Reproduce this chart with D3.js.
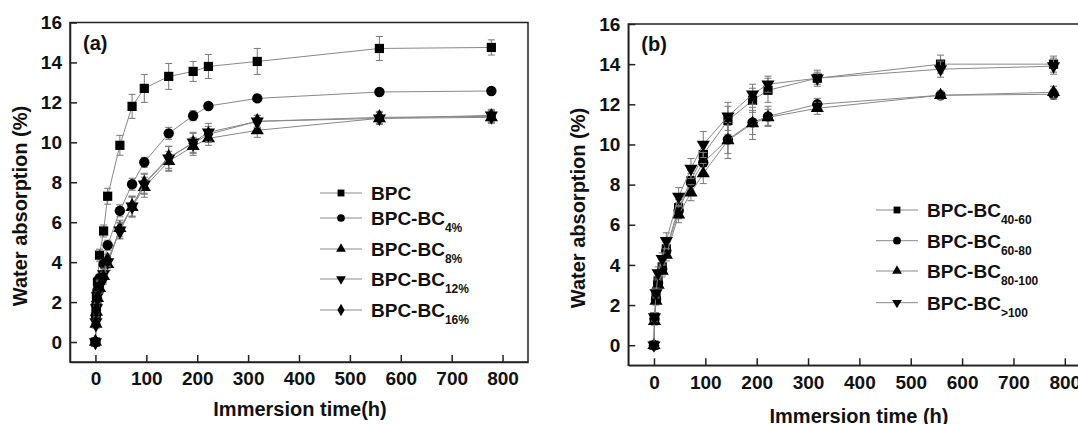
<!DOCTYPE html>
<html>
<head>
<meta charset="utf-8">
<script src="https://cdn.jsdelivr.net/npm/d3@7"></script>
<style>
  body { margin: 0; background: #fff; }
  text { font-family: "Liberation Sans", Arial, sans-serif; font-weight: bold; fill: #111; }
</style>
</head>
<body>
<div id="chart"></div>
<script>
// (a) time points and series
var timesA = [0, 1, 2, 4, 8, 16, 24, 48, 72, 96, 144, 192, 222, 318, 558, 778];
var bpc = [0, 1.6, 2.3, 3.0, 4.35, 5.56, 7.3, 9.85, 11.8, 12.7, 13.3, 13.55, 13.8, 14.05, 14.7, 14.75];
var bpcErr = [0.1, 0.2, 0.2, 0.25, 0.3, 0.3, 0.4, 0.5, 0.6, 0.7, 0.65, 0.5, 0.6, 0.65, 0.6, 0.38];
var bc4 = [0, 1.3, 1.9, 2.6, 3.2, 3.9, 4.85, 6.57, 7.9, 9.0, 10.45, 11.33, 11.82, 12.2, 12.52, 12.57];
var bc4Err = [0.1, 0.15, 0.15, 0.2, 0.2, 0.2, 0.25, 0.3, 0.3, 0.25, 0.3, 0.25, 0.15, 0.15, 0.1, 0.1];
var bc8 = [0, 0.9, 1.5, 2.2, 2.7, 3.3, 3.9, 5.7, 6.75, 7.75, 9.05, 9.8, 10.2, 10.6, 11.2, 11.25];
var bc8Err = [0.1, 0.2, 0.2, 0.25, 0.3, 0.3, 0.3, 0.4, 0.5, 0.5, 0.5, 0.45, 0.35, 0.35, 0.3, 0.3];
var bc12 = [0, 1.0, 1.7, 2.3, 2.8, 3.4, 4.0, 5.6, 6.8, 7.9, 9.2, 10.0, 10.5, 11.05, 11.2, 11.35];
var bc12Err = [0.1, 0.2, 0.2, 0.2, 0.3, 0.3, 0.3, 0.4, 0.5, 0.5, 0.6, 0.5, 0.45, 0.3, 0.3, 0.3];
var bc16 = [0, 0.9, 1.6, 2.2, 2.75, 3.2, 4.1, 5.56, 6.8, 7.95, 9.25, 9.95, 10.4, 11.05, 11.25, 11.3];
var bc16Err = [0.1, 0.2, 0.2, 0.2, 0.3, 0.3, 0.3, 0.4, 0.5, 0.5, 0.55, 0.5, 0.4, 0.3, 0.3, 0.3];

// (b) time points and series
var timesB = [0, 1, 4, 8, 16, 24, 48, 72, 96, 144, 192, 222, 318, 558, 778];
var bc4060 = [0, 1.4, 2.4, 3.2, 3.9, 4.8, 6.85, 8.2, 9.5, 11.2, 12.2, 12.7, 13.3, 14.0, 14.0];
var bc4060Err = [0.1, 0.2, 0.25, 0.25, 0.3, 0.35, 0.4, 0.5, 0.6, 0.7, 0.6, 0.6, 0.4, 0.45, 0.4];
var bc6080 = [0, 1.3, 2.3, 3.1, 3.8, 4.7, 6.7, 8.1, 9.1, 10.25, 11.1, 11.4, 12.0, 12.45, 12.5];
var bc6080Err = [0.1, 0.2, 0.2, 0.25, 0.3, 0.3, 0.4, 0.45, 0.5, 0.7, 0.6, 0.5, 0.3, 0.2, 0.25];
var bc80100 = [0, 1.2, 2.2, 3.0, 3.7, 4.5, 6.5, 7.6, 8.55, 10.2, 11.05, 11.35, 11.8, 12.45, 12.6];
var bc80100Err = [0.1, 0.2, 0.2, 0.25, 0.3, 0.3, 0.4, 0.4, 0.5, 0.9, 0.8, 0.4, 0.3, 0.2, 0.3];
var bcOver100 = [0, 1.4, 2.6, 3.6, 4.3, 5.2, 7.4, 8.8, 10.0, 11.4, 12.5, 13.0, 13.3, 13.75, 13.9];
var bcOver100Err = [0.1, 0.2, 0.25, 0.3, 0.3, 0.4, 0.45, 0.5, 0.65, 0.7, 0.5, 0.4, 0.3, 0.4, 0.4];

var xTicks = [0, 100, 200, 300, 400, 500, 600, 700, 800];
var yTicks = [0, 2, 4, 6, 8, 10, 12, 14, 16];

var svg = d3.select("#chart").append("svg")
    .attr("width", 1078)
    .attr("height", 424);

function markerPath(kind, size) {
    var types = { square: d3.symbolSquare, circle: d3.symbolCircle, up: d3.symbolTriangle, down: d3.symbolTriangle, diamond: d3.symbolDiamond };
    return d3.symbol().type(types[kind]).size(size)();
}
function markerRot(kind) {
    return kind === "down" ? " rotate(180)" : "";
}

function drawPanel(p) {
    var x = d3.scaleLinear().domain([-50, 850]).range([p.left, p.right]);
    var y = d3.scaleLinear().domain([-1, 16]).range([p.bottom, p.top]);
    var g = svg.append("g");

    // frame
    g.append("rect")
        .attr("x", p.left).attr("y", p.top)
        .attr("width", p.right - p.left).attr("height", p.bottom - p.top)
        .attr("fill", "none").attr("stroke", "#222").attr("stroke-width", 1.5);

    var xAxis = d3.axisBottom(x).tickValues(xTicks).tickSizeInner(-7).tickSizeOuter(0).tickPadding(10);
    var yAxis = d3.axisLeft(y).tickValues(yTicks).tickSizeInner(-7).tickSizeOuter(0).tickPadding(8);

    var gx = g.append("g").attr("transform", "translate(0," + p.bottom + ")").call(xAxis);
    var gy = g.append("g").attr("transform", "translate(" + p.left + ",0)").call(yAxis);
    [gx, gy].forEach(function(a) {
        a.select(".domain").attr("stroke", "#222").attr("stroke-width", 1.5);
        a.selectAll(".tick line").attr("stroke", "#222").attr("stroke-width", 1.5);
        a.selectAll(".tick text").attr("fill", "#111")
            .style("font-family", "'Liberation Sans', Arial, sans-serif")
            .style("font-weight", "bold").style("font-size", "19px");
    });

    var line = d3.line()
        .x(function(d) { return x(d.t); })
        .y(function(d) { return y(d.v); });

    p.series.forEach(function(s) {
        var pts = p.times.map(function(t, i) { return { t: t, v: s.values[i], e: s.err[i] }; });
        var sg = g.append("g");

        var eb = sg.selectAll(".eb").data(pts).enter().append("g");
        eb.append("line")
            .attr("x1", function(d) { return x(d.t); }).attr("x2", function(d) { return x(d.t); })
            .attr("y1", function(d) { return y(d.v - d.e); }).attr("y2", function(d) { return y(d.v + d.e); });
        eb.append("line")
            .attr("x1", function(d) { return x(d.t) - 3.5; }).attr("x2", function(d) { return x(d.t) + 3.5; })
            .attr("y1", function(d) { return y(d.v + d.e); }).attr("y2", function(d) { return y(d.v + d.e); });
        eb.append("line")
            .attr("x1", function(d) { return x(d.t) - 3.5; }).attr("x2", function(d) { return x(d.t) + 3.5; })
            .attr("y1", function(d) { return y(d.v - d.e); }).attr("y2", function(d) { return y(d.v - d.e); });
        eb.selectAll("line").attr("stroke", "#777").attr("stroke-width", 1);

        sg.append("path").datum(pts)
            .attr("d", line)
            .attr("fill", "none").attr("stroke", "#888").attr("stroke-width", 1);

        sg.selectAll(".mk").data(pts).enter().append("path")
            .attr("d", markerPath(s.marker, s.size))
            .attr("transform", function(d) { return "translate(" + x(d.t) + "," + y(d.v) + ")" + markerRot(s.marker); })
            .attr("fill", "#000");
    });

    // legend
    p.series.forEach(function(s, i) {
        var ly = p.legendY[i];
        g.append("line")
            .attr("x1", p.legendX).attr("x2", p.legendX + 42)
            .attr("y1", ly).attr("y2", ly)
            .attr("stroke", "#888").attr("stroke-width", 1);
        g.append("path")
            .attr("d", markerPath(s.marker, s.size * 0.55))
            .attr("transform", "translate(" + (p.legendX + 21) + "," + ly + ")" + markerRot(s.marker))
            .attr("fill", "#000");
        var t = g.append("text")
            .attr("x", p.legendX + 51).attr("y", ly + 7)
            .style("font-size", "19px");
        t.append("tspan").text(s.name);
        if (s.sub) {
            t.append("tspan").text(s.sub).attr("dy", 7).style("font-size", "12px");
        }
    });

    g.append("text").text(p.label)
        .attr("x", p.left + 13).attr("y", p.top + 27)
        .style("font-size", "20px");

    g.append("text").text(p.xTitle)
        .attr("text-anchor", "middle")
        .attr("x", p.xTitleX).attr("y", p.xTitleY)
        .style("font-size", "20px");

    g.append("text").text("Water absorption (%)")
        .attr("text-anchor", "middle")
        .attr("transform", "translate(" + p.yTitleX + "," + p.yTitleY + ") rotate(-90)")
        .style("font-size", "20px");
}

drawPanel({
    left: 70, right: 528, top: 22.5, bottom: 362,
    times: timesA,
    series: [
        { name: "BPC", sub: "", values: bpc, err: bpcErr, marker: "square", size: 85 },
        { name: "BPC-BC", sub: "4%", values: bc4, err: bc4Err, marker: "circle", size: 85 },
        { name: "BPC-BC", sub: "8%", values: bc8, err: bc8Err, marker: "up", size: 75 },
        { name: "BPC-BC", sub: "12%", values: bc12, err: bc12Err, marker: "down", size: 75 },
        { name: "BPC-BC", sub: "16%", values: bc16, err: bc16Err, marker: "diamond", size: 80 }
    ],
    legendX: 320, legendY: [193, 218, 249, 279, 310],
    label: "(a)", xTitle: "Immersion time(h)", xTitleX: 300, xTitleY: 416,
    yTitleX: 27, yTitleY: 206
});

drawPanel({
    left: 628.3, right: 1090.5, top: 24, bottom: 365.3,
    times: timesB,
    series: [
        { name: "BPC-BC", sub: "40-60", values: bc4060, err: bc4060Err, marker: "square", size: 85 },
        { name: "BPC-BC", sub: "60-80", values: bc6080, err: bc6080Err, marker: "circle", size: 85 },
        { name: "BPC-BC", sub: "80-100", values: bc80100, err: bc80100Err, marker: "up", size: 75 },
        { name: "BPC-BC", sub: ">100", values: bcOver100, err: bcOver100Err, marker: "down", size: 75 }
    ],
    legendX: 876, legendY: [210, 240.7, 271, 302.7],
    label: "(b)", xTitle: "Immersion time (h)", xTitleX: 859, xTitleY: 423,
    yTitleX: 585, yTitleY: 208
});
</script>
</body>
</html>
